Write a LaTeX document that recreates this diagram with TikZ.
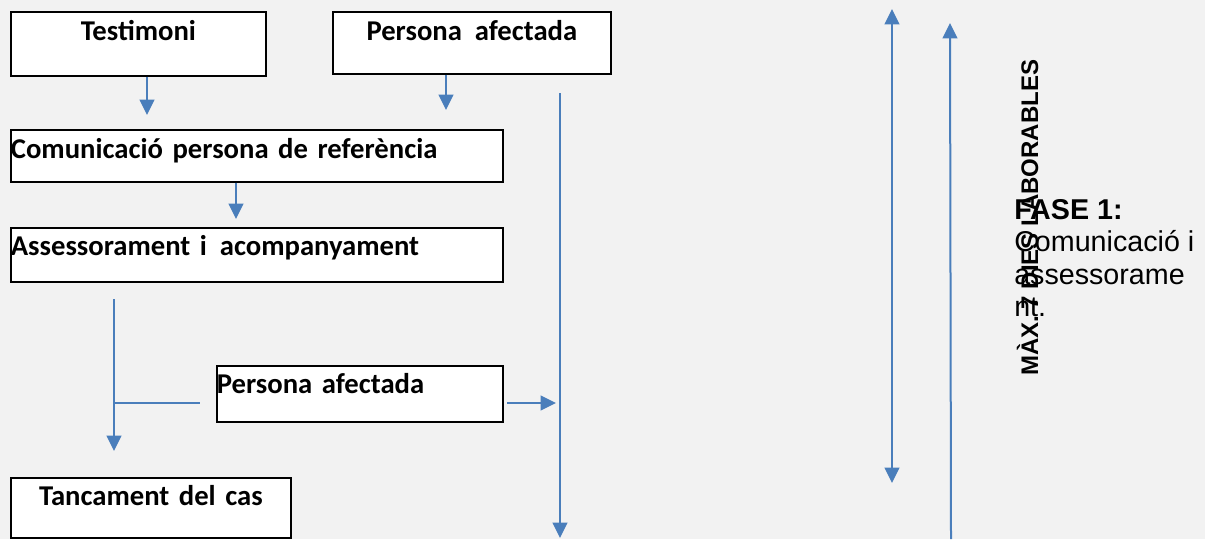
\documentclass[tikz,border=0pt]{standalone}
\usepackage{fontspec}
\setmainfont{Carlito}
\newfontfamily\arialfont{Liberation Sans}
\usetikzlibrary{arrows.meta,positioning}
\definecolor{Flow}{HTML}{4A7EBB}
\definecolor{Paper}{HTML}{F2F2F2}

\begin{document}
\begin{tikzpicture}[x=0.75pt,y=-0.75pt,>={Triangle[width=11pt,length=11.5pt]},
    caixa/.style={draw=black,line width=1.3pt,fill=white,inner sep=0pt,anchor=north west,
      font=\fontsize{21.5}{24}\selectfont\bfseries},
    flux/.style={draw=Flow,line width=1.5pt}]
  \fill[Paper] (0,0) rectangle (1205,539);
  \useasboundingbox (0,0) rectangle (1205,539);

  % caixes
  \node[caixa,text width=191.25pt,align=center,text height=21.75pt,text depth=26.25pt]
    (testimoni) at (10,11) {Testimoni};
  \node[caixa,text width=208.5pt,align=center,text height=21.75pt,text depth=24.75pt]
    (persona) at (332,11) {Persona\hspace{0.45em}afectada};
  \node[caixa,text width=369pt,align=left,text height=21.75pt,text depth=17.25pt]
    (comunicacio) at (10,129) {Comunicació persona de referència};
  \node[caixa,text width=369pt,align=left,text height=21pt,text depth=19.5pt]
    (assessorament) at (10,227) {Assessorament i\hspace{0.45em}acompanyament};
  \node[caixa,text width=214.5pt,align=left,text height=21pt,text depth=21pt]
    (afectada) at (216,365) {Persona afectada};
  \node[caixa,text width=210pt,align=center,text height=21pt,text depth=24pt]
    (tancament) at (10,477) {Tancament del cas};

  % punts lliures
  \coordinate (t1) at (147,115);
  \coordinate (t2) at (446,110);
  \coordinate (t3) at (236,219);
  \coordinate (v1) at (560,93);
  \coordinate (v2) at (560,538);
  \coordinate (b1) at (114,299);
  \coordinate (b2) at (114,451);
  \coordinate (b3) at (114,403);
  \coordinate (b4) at (200,403);
  \coordinate (c1) at (507,403);
  \coordinate (c2) at (556,403);
  \coordinate (d1) at (892,9);
  \coordinate (d2) at (892,483);
  \coordinate (e1) at (951,539);
  \coordinate (e2) at (950,23);

  % fletxes
  \draw[flux,->] (testimoni.south -| t1) -- (t1);
  \draw[flux,->] (persona.south -| t2) -- (t2);
  \draw[flux,->] (comunicacio.south -| t3) -- (t3);
  \draw[flux,->] (v1) -- (v2);
  \draw[flux,->] (b1) -- (b2);
  \draw[flux] (b3) -- (b4);
  \draw[flux,->] (c1) -- (c2);
  \draw[flux,<->] (d1) -- (d2);
  \draw[flux,->] (e1) -- (e2);

  % textos fase
  \node[rotate=90,anchor=base west,inner sep=0pt,
        font=\arialfont\fontsize{18}{20}\selectfont\bfseries]
    (termini) at (1038,376) {MÀX. 7 DIES LABORABLES};
  \node[anchor=north west,inner sep=0pt,align=left,
        font=\arialfont\fontsize{21.5}{24.3}\selectfont]
    (fase) at (1014,199) {\textbf{FASE 1:}\\Comunicació i\\assessorame\\nt.};
\end{tikzpicture}
\end{document}
